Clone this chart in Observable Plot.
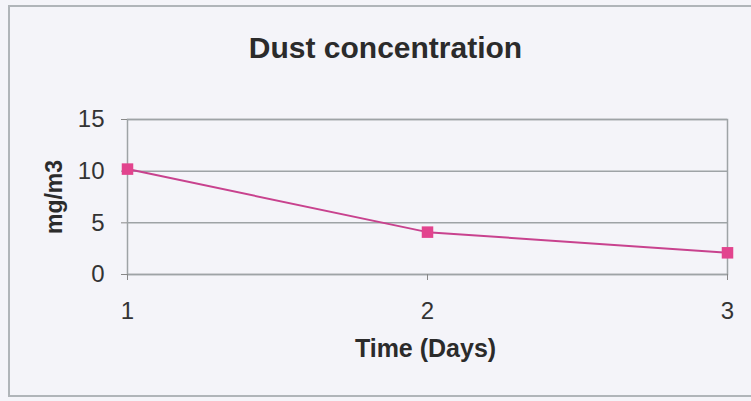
<!DOCTYPE html>
<html>
<head>
<meta charset="utf-8">
<script src="https://cdn.jsdelivr.net/npm/d3@7"></script>
<script src="https://cdn.jsdelivr.net/npm/@observablehq/plot@0.6"></script>
<style>
  html, body { margin: 0; padding: 0; background: #f4f4f9; }
  #wrap { position: relative; width: 751px; height: 401px; overflow: hidden; background: #f4f4f9; }
  #border { position: absolute; left: 8px; top: 5px; width: 760px; height: 392px;
            border: 2px solid #b0b5b9; box-sizing: border-box; }
  #chart { position: absolute; left: 0; top: 0; }
</style>
</head>
<body>
<div id="wrap"><div id="border"></div><div id="chart"></div></div>
<script>
const days = [1, 2, 3];
const concentration = [10.2, 4.1, 2.1];
const yTicks = [0, 5, 10, 15];
const title = "Dust concentration";
const xLabel = "Time (Days)";
const yLabel = "mg/m3";

const data = days.map((d, i) => ({day: d, value: concentration[i]}));

const chart = Plot.plot({
  width: 751,
  height: 401,
  marginLeft: 127,
  marginRight: 24,
  marginTop: 119,
  marginBottom: 127,
  style: {background: "transparent", fontFamily: "'Liberation Sans', Arial, sans-serif", color: "#333"},
  x: {domain: [1, 3], ticks: days, tickFormat: d3.format("d"), label: null},
  y: {domain: [0, 15], ticks: yTicks, label: null},
  marks: [
    Plot.ruleY(yTicks, {stroke: "#9ea3a6", strokeWidth: 1.5}),
    Plot.frame({stroke: "#9ea3a6", strokeWidth: 1.5}),
    Plot.axisX({ticks: days, tickFormat: d3.format("d"), tickSize: 6, tickPadding: 21, fontSize: 24, stroke: "#888", fill: "#333", label: null}),
    Plot.axisY({ticks: yTicks, tickSize: 6, tickPadding: 17, fontSize: 24, stroke: "#888", fill: "#333", label: null}),
    Plot.line(data, {x: "day", y: "value", stroke: "#c8428e", strokeWidth: 2}),
    Plot.dot(data, {x: "day", y: "value", symbol: "square", r: 6.5, fill: "#e2448e", stroke: "none"}),
    Plot.text([title], {frameAnchor: "top", dx: -42, dy: -83, text: d => d, fontSize: 30, fontWeight: "bold", fill: "#2b2b2b"}),
    Plot.text([xLabel], {frameAnchor: "bottom", dx: -2, dy: 82, text: d => d, fontSize: 25, fontWeight: "bold", fill: "#2b2b2b"}),
    Plot.text([yLabel], {frameAnchor: "left", textAnchor: "middle", dx: -73, rotate: -90, text: d => d, fontSize: 23, fontWeight: "bold", fill: "#2b2b2b"})
  ]
});
document.getElementById("chart").appendChild(chart);
</script>
</body>
</html>
